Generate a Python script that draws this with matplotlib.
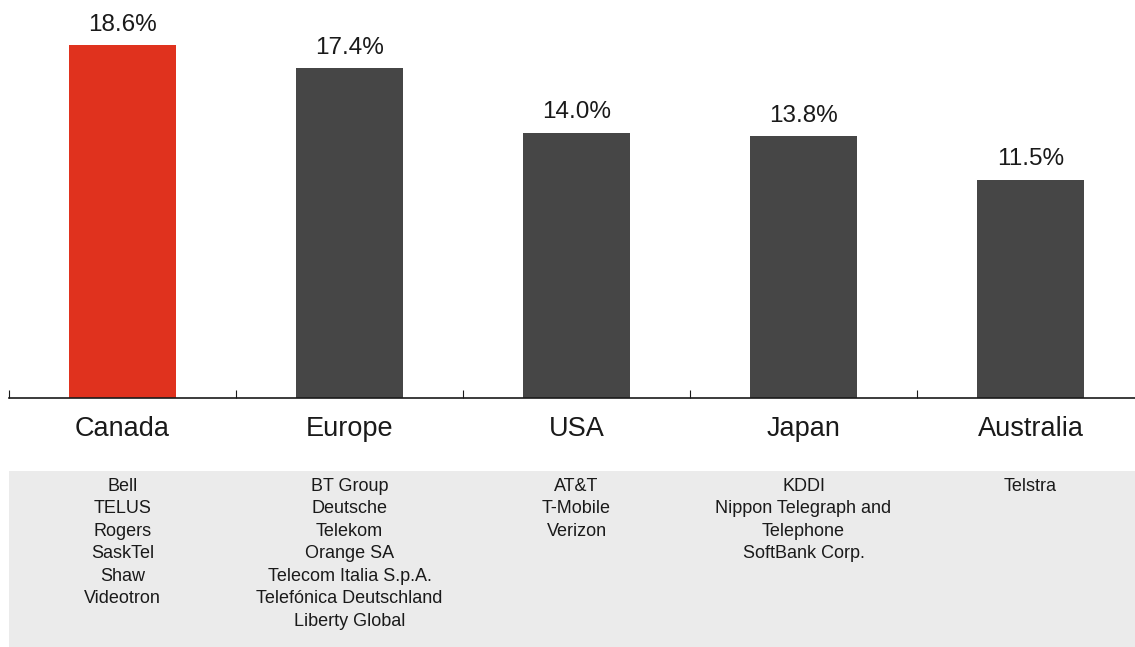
import matplotlib
matplotlib.use("Agg")
import matplotlib.pyplot as plt
from matplotlib.patches import Rectangle

regions = ["Canada", "Europe", "USA", "Japan", "Australia"]
values = [18.6, 17.4, 14.0, 13.8, 11.5]
value_labels = ["18.6%", "17.4%", "14.0%", "13.8%", "11.5%"]
companies = [
    ["Bell", "TELUS", "Rogers", "SaskTel", "Shaw", "Videotron"],
    ["BT Group", "Deutsche", "Telekom", "Orange SA", "Telecom Italia S.p.A.",
     "Telefónica Deutschland", "Liberty Global"],
    ["AT&T", "T-Mobile", "Verizon"],
    ["KDDI", "Nippon Telegraph and", "Telephone", "SoftBank Corp."],
    ["Telstra"],
]
colors = ["#e0321e", "#464646", "#464646", "#464646", "#464646"]

plt.rcParams['font.family'] = ['Liberation Sans', 'DejaVu Sans']
W, H = 1135, 647
fig = plt.figure(figsize=(W / 100, H / 100), dpi=100)

# grey company panel
fig.patches.append(Rectangle((9 / W, 0), 1 - 9 / W, (H - 471) / H,
                             transform=fig.transFigure, facecolor="#ebebeb",
                             edgecolor="none", zorder=0))

ax = fig.add_axes([9 / W, (H - 398) / H, (W - 9) / W, 398 / H])
ax.set_facecolor("none")
x = list(range(len(regions)))
bars = ax.bar(x, values, width=0.47, color=colors, zorder=2)
ax.set_xlim(-0.5, -0.5 + (W - 9) / 227)
ax.set_ylim(0, 21)

for xi, v, lab in zip(x, values, value_labels):
    ax.annotate(lab, (xi, v), xytext=(0, 7), textcoords="offset points",
                ha="center", va="bottom", fontsize=17.5, color="#1a1a1a")

for s in ["top", "right", "left"]:
    ax.spines[s].set_visible(False)
ax.spines["bottom"].set_color("#1a1a1a")
ax.spines["bottom"].set_linewidth(1.2)
ax.set_yticks([])
ax.set_xticks(x)
ax.set_xticklabels(regions, fontsize=19.5, color="#1a1a1a")
ax.tick_params(axis="x", which="major", length=0, pad=13)
ax.set_xticks([i - 0.5 for i in range(len(regions))], minor=True)
ax.tick_params(axis="x", which="minor", direction="in", length=6, width=0.8,
               color="#1a1a1a")

for xi, comp in zip(x, companies):
    xf = (9 + (xi + 0.5) * 227) / W
    fig.text(xf, (H - 478) / H, "\n".join(comp), ha="center", va="top",
             fontsize=13, color="#1a1a1a", linespacing=1.42)

fig.savefig("out.png", dpi=100)
